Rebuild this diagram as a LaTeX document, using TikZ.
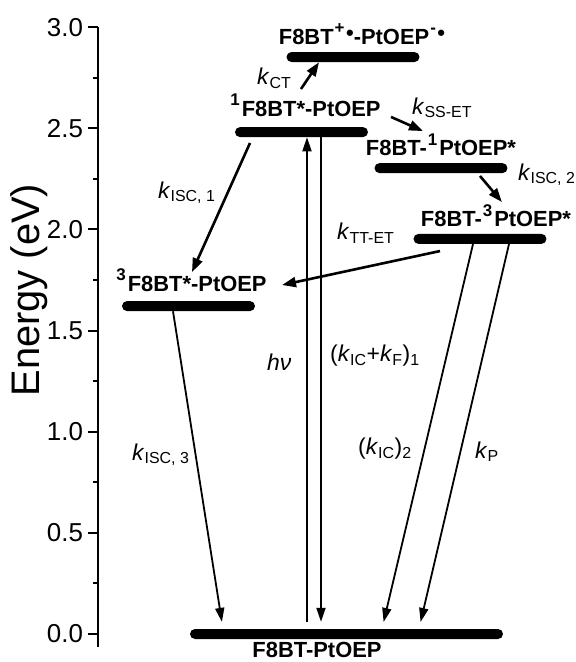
\documentclass[tikz,border=0pt]{standalone}
\usepackage{fontspec}
\setmainfont{Liberation Sans}
\usetikzlibrary{arrows.meta}

\newcommand{\rate}[1]{\textit{k}\textsubscript{\fontsize{16}{16}\selectfont #1}}
\newcommand{\sups}[1]{\hspace{1bp}\raisebox{0.5em}{\fontsize{17}{17}\selectfont #1}\hspace{2bp}}
\newcommand{\rad}{\hspace{-0.5bp}\raisebox{0.22em}{\fontsize{22}{22}\selectfont •}}

\begin{document}
\begin{tikzpicture}[
    x=1bp, y=202.3bp,
    elevel/.style={fill=black, rounded corners=5bp, minimum width=133bp, minimum height=10bp,
                   inner sep=0pt},
    statelbl/.style={font=\fontsize{22}{22}\selectfont\bfseries, inner sep=0pt, anchor=base},
    ratelbl/.style={font=\fontsize{23}{23}\selectfont, inner sep=0pt, anchor=base west},
    ticklbl/.style={font=\fontsize{26}{26}\selectfont, inner sep=0pt, anchor=east},
    xfer/.style={-{Triangle[length=14bp, width=10bp]}, line width=2.6bp},
    decay/.style={-{Triangle[length=14bp, width=9bp]}, line width=1.8bp, shorten >=7bp},
]
\useasboundingbox (0,-0.1384) rectangle (576,3.134);

% energy axis
\draw[line width=2.2bp] (98,-0.064) -- (98,3.0);
\foreach \e in {0.0,0.5,1.0,1.5,2.0,2.5,3.0}
    \draw[line width=2bp] (98,\e) -- (88,\e) node[ticklbl] at (84,\e) {\e};
\foreach \e in {0.25,0.75,1.25,1.75,2.25,2.75}
    \draw[line width=2bp] (98,\e) -- (93,\e);
\node[rotate=90, anchor=base, font=\fontsize{40}{40}\selectfont] (ylab) at (40,1.70) {Energy (eV)};

% levels
\node[elevel] (ct) at (353,2.852) {};
\node[elevel] (s1F) at (301.5,2.481) {};
\node[elevel] (s1P) at (441,2.303) {};
\node[elevel] (t1P) at (480,1.953) {};
\node[elevel] (t1F) at (188.5,1.621) {};
\node[elevel, minimum width=313bp] (gs) at (346.5,0) {};

\node[statelbl] (ctlbl) at (362,2.912) {F8BT\sups{+}\rad-PtOEP\sups{-}\rad};
\node[statelbl] (s1Flbl) at (305,2.556) {\sups{1}F8BT*-PtOEP};
\node[statelbl] (s1Plbl) at (441,2.363) {F8BT-\sups{1}PtOEP*};
\node[statelbl] (t1Plbl) at (496,2.012) {F8BT-\sups{3}PtOEP*};
\node[statelbl] (t1Flbl) at (191,1.691) {\sups{3}F8BT*-PtOEP};
\node[statelbl] (gslbl) at (317,-0.1137) {F8BT-PtOEP};

% rate labels
\node[ratelbl] (kct) at (257,2.714) {\rate{CT}};
\node[ratelbl] (kss) at (412,2.570) {\rate{SS-ET}};
\node[ratelbl] (kisc2) at (518,2.244) {\rate{ISC, 2}};
\node[ratelbl] (kisc1) at (158,2.155) {\rate{ISC, 1}};
\node[ratelbl] (ktt) at (337,1.948) {\rate{TT-ET}};
\node[ratelbl] (hv) at (267,1.305) {\textit{hν}};
\node[ratelbl] (kfl) at (330,1.345) {(\rate{IC}+\rate{F})\textsubscript{\fontsize{16}{16}\selectfont 1}};
\node[ratelbl] (kic2) at (358,0.885) {(\rate{IC})\textsubscript{\fontsize{16}{16}\selectfont 2}};
\node[ratelbl] (kp) at (475,0.870) {\rate{P}};
\node[ratelbl] (kisc3) at (132,0.860) {\rate{ISC, 3}};

% transfer steps
\coordinate (ctA) at (301,2.694);
\coordinate (ssA) at (391,2.556);
\coordinate (ssB) at (423,2.486);
\coordinate (isc2A) at (480,2.264);
\coordinate (isc2B) at (502,2.135);
\coordinate (isc1A) at (250,2.427);
\coordinate (isc1B) at (192,1.789);
\coordinate (ttA) at (440,1.893);
\coordinate (ttB) at (282,1.725);

\draw[xfer] (ctA) -- (ct.south -| 319,0);
\draw[xfer] (ssA) -- (ssB);
\draw[xfer] (isc2A) -- (isc2B);
\draw[xfer] (isc1A) -- (isc1B);
\draw[xfer] (ttA) -- (ttB);

% excitation and decays
\draw[decay, shorten >=0pt, shorten <=7bp] (gs.north -| 307,0) -- (s1F.south -| 307,0);
\draw[decay] (s1F.south -| 321,0) -- (gs.north -| 321,0);
\draw[decay] (t1F.south -| 173,0) -- (gs.north -| 223,0);
\draw[decay] (t1P.south -| 473,0) -- (gs.north -| 382,0);
\draw[decay] (t1P.south -| 509,0) -- (gs.north -| 419,0);

\end{tikzpicture}
\end{document}
